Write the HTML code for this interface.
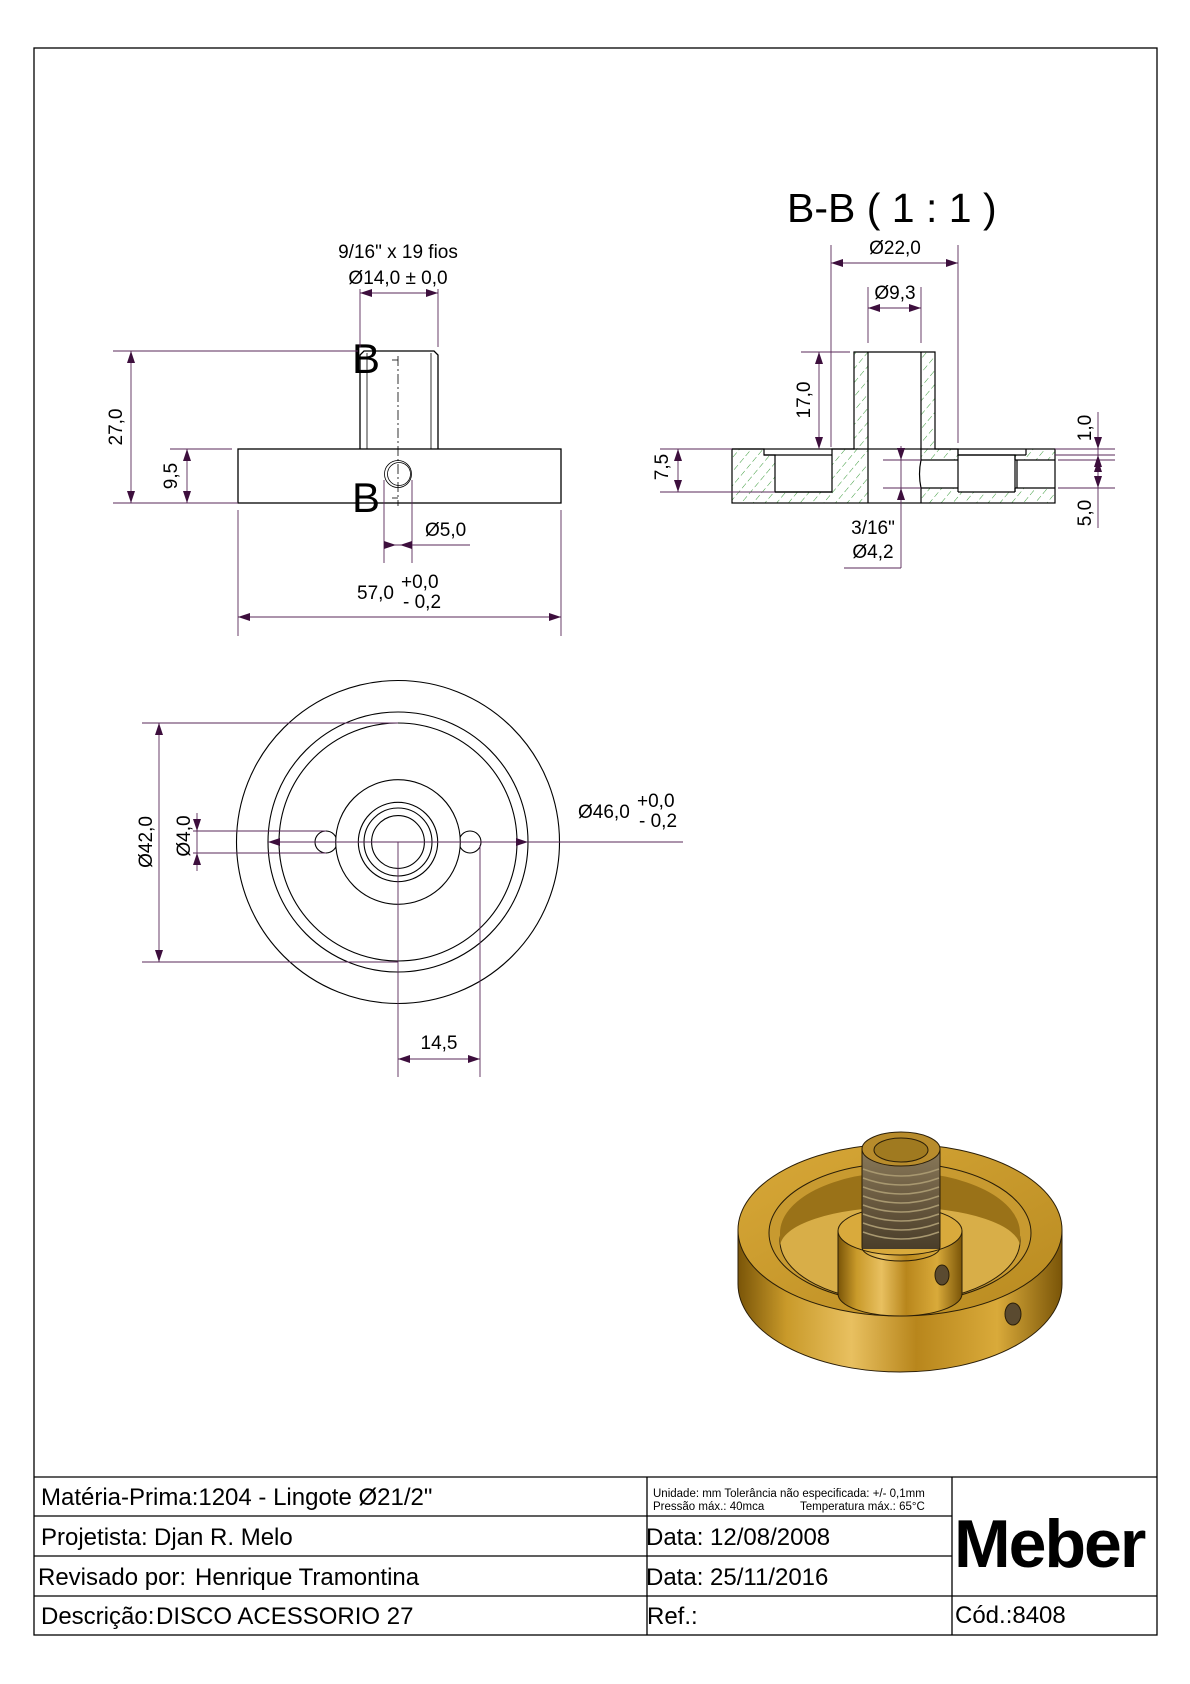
<!DOCTYPE html>
<html><head><meta charset="utf-8"><style>
html,body{margin:0;padding:0;background:#fff;}
svg{display:block;font-family:"Liberation Sans",Arial,sans-serif;}
</style></head><body>
<svg width="1190" height="1684" viewBox="0 0 1190 1684" xmlns="http://www.w3.org/2000/svg">
<defs>
<pattern id="h" width="9" height="9" patternUnits="userSpaceOnUse" patternTransform="rotate(40)">
<line x1="0" y1="0" x2="0" y2="9" stroke="#3a9a3a" stroke-width="1" stroke-dasharray="5,3"/>
</pattern>
<linearGradient id="gs" x1="0" x2="1" y1="0" y2="0">
<stop offset="0" stop-color="#7a5508"/><stop offset="0.15" stop-color="#c99a2a"/><stop offset="0.35" stop-color="#e8c060"/><stop offset="0.55" stop-color="#b8861c"/><stop offset="0.8" stop-color="#d9aa3a"/><stop offset="1" stop-color="#7a5508"/>
</linearGradient>
<linearGradient id="gt" x1="0" x2="1" y1="0" y2="1">
<stop offset="0" stop-color="#d8a838"/><stop offset="1" stop-color="#b88a20"/>
</linearGradient>
<linearGradient id="gth" x1="0" x2="0" y1="0" y2="1">
<stop offset="0" stop-color="#8a7a5a"/><stop offset="0.5" stop-color="#6a5a40"/><stop offset="1" stop-color="#4a3e2a"/>
</linearGradient>
</defs>

<!-- border -->
<rect x="34" y="48" width="1123" height="1587" fill="none" stroke="#000" stroke-width="1.3"/>

<!-- title block -->
<g stroke="#000" stroke-width="1.3" fill="none">
<line x1="34" y1="1477" x2="1157" y2="1477"/>
<line x1="34" y1="1516" x2="952" y2="1516"/>
<line x1="34" y1="1556" x2="952" y2="1556"/>
<line x1="34" y1="1596" x2="1157" y2="1596"/>
<line x1="647" y1="1477" x2="647" y2="1635"/>
<line x1="952" y1="1477" x2="952" y2="1635"/>
</g>
<g font-size="24" fill="#000">
<text x="41" y="1505">Matéria-Prima:1204 - Lingote Ø21/2"</text>
<text x="41" y="1545">Projetista: <tspan x="154">Djan R. Melo</tspan></text>
<text x="38" y="1585">Revisado por: <tspan x="195">Henrique Tramontina</tspan></text>
<text x="41" y="1624">Descrição:<tspan x="156">DISCO ACESSORIO 27</tspan></text>
<text x="646" y="1545">Data: 12/08/2008</text>
<text x="646" y="1585">Data: 25/11/2016</text>
<text x="647" y="1624">Ref.:</text>
<text x="955" y="1623">Cód.:8408</text>
</g>
<g font-size="11.5" fill="#000">
<text x="653" y="1497">Unidade: mm Tolerância não especificada: +/- 0,1mm</text>
<text x="653" y="1510">Pressão máx.: 40mca</text>
<text x="800" y="1510">Temperatura máx.: 65°C</text>
</g>
<text x="954" y="1567" font-size="68" font-weight="bold" letter-spacing="-2" fill="#000">Meber</text>

<!-- FRONT VIEW -->
<g stroke="#000" stroke-width="1.3" fill="none">
<rect x="238" y="449" width="323" height="54"/>
<path d="M360,449 V355 L364,351 H434 L438,355 V449"/>
</g>
<g stroke="#000" stroke-width="0.8" fill="none">
<line x1="367" y1="353" x2="367" y2="449"/>
<line x1="431" y1="353" x2="431" y2="449"/>
<circle cx="398" cy="474" r="13.5"/>
<circle cx="399" cy="474" r="11.5"/>
<line x1="398" y1="356" x2="398" y2="506" stroke-dasharray="10,3,2,3"/>
<line x1="392" y1="360" x2="398" y2="360"/>
<line x1="392" y1="498" x2="398" y2="498"/>
</g>
<text x="352" y="373" font-size="42" fill="#000">B</text>
<text x="352" y="512" font-size="42" fill="#000">B</text>

<g stroke="#5a2a5a" stroke-width="0.9" fill="none">
<line x1="113" y1="351" x2="358" y2="351"/>
<line x1="113" y1="503" x2="238" y2="503"/>
<line x1="131" y1="351" x2="131" y2="503"/>
<line x1="170" y1="449" x2="232" y2="449"/>
<line x1="187" y1="449" x2="187" y2="503"/>
<line x1="360" y1="289" x2="360" y2="347"/>
<line x1="438" y1="289" x2="438" y2="347"/>
<line x1="360" y1="293" x2="438" y2="293"/>
<line x1="384" y1="480" x2="384" y2="563"/>
<line x1="412" y1="480" x2="412" y2="563"/>
<line x1="384" y1="545" x2="470" y2="545"/>
<line x1="238" y1="510" x2="238" y2="636"/>
<line x1="561" y1="510" x2="561" y2="636"/>
<line x1="238" y1="617" x2="561" y2="617"/>
</g>
<g fill="#3d0f3d">
<polygon points="131,351 127,363 135,363"/><polygon points="131,503 127,491 135,491"/>
<polygon points="187,449 183,461 191,461"/><polygon points="187,503 183,491 191,491"/>
<polygon points="360,293 372,289 372,297"/><polygon points="438,293 426,289 426,297"/>
<polygon points="396,545 384,541 384,549"/><polygon points="400,545 412,541 412,549"/>
<polygon points="238,617 250,613 250,621"/><polygon points="561,617 549,613 549,621"/>
</g>
<g font-size="19" fill="#000">
<text x="398" y="258" text-anchor="middle">9/16" x 19 fios</text>
<text x="398" y="284" text-anchor="middle">Ø14,0 ± 0,0</text>
<text transform="translate(122,427) rotate(-90)" text-anchor="middle">27,0</text>
<text transform="translate(177,476) rotate(-90)" text-anchor="middle">9,5</text>
<text x="425" y="536">Ø5,0</text>
<text x="357" y="599">57,0</text>
<text x="401" y="588">+0,0</text>
<text x="403" y="608">- 0,2</text>
</g>

<!-- SECTION VIEW -->
<text x="787" y="222" font-size="41" fill="#000">B-B ( 1 : 1 )</text>
<g fill="url(#h)" stroke="none">
<path d="M732,449 H764 V455 H775 V492 H832 V449 H854 V352 H868 V503 H732 Z"/>
<path d="M921,352 H935 V449 H958 V460 H921 Z"/>
<path d="M921,488 H958 V492 H1015 V488 H1055 V503 H921 Z"/>
<path d="M1026,449 H1055 V460 H1015 V455 H1026 Z"/>
</g>
<g stroke="#000" stroke-width="1.2" fill="none">
<path d="M732,449 H764 V455 H775 V492 H832 V449 H854 V352 H935 V449 H958 V455 H1015 V492"/>
<rect x="732" y="449" width="323" height="54"/>
<line x1="764" y1="455" x2="832" y2="455"/>
<line x1="868" y1="352" x2="868" y2="503"/>
<line x1="921" y1="352" x2="921" y2="460"/>
<line x1="921" y1="488" x2="921" y2="503"/>
<line x1="958" y1="449" x2="958" y2="492"/>
<line x1="775" y1="492" x2="832" y2="492"/>
<line x1="958" y1="492" x2="1015" y2="492"/>
<line x1="958" y1="455" x2="1026" y2="455"/>
<line x1="1026" y1="449" x2="1026" y2="455"/>
<path d="M921,460 H958 M921,488 H958"/>
<path d="M921,460 Q918,474 921,488"/>
<path d="M1015,460 H1055 M1015,488 H1055"/>
<line x1="1017" y1="460" x2="1017" y2="488"/>
<line x1="1015" y1="455" x2="1015" y2="460"/>
<line x1="1015" y1="488" x2="1015" y2="492"/>
</g>
<line x1="868" y1="449" x2="921" y2="449" stroke="#000" stroke-width="1" stroke-dasharray="6,3"/>
<line x1="868" y1="352" x2="921" y2="352" stroke="#000" stroke-width="1" stroke-dasharray="6,3"/>

<g stroke="#5a2a5a" stroke-width="0.9" fill="none">
<line x1="831" y1="245" x2="831" y2="447"/>
<line x1="958" y1="245" x2="958" y2="443"/>
<line x1="831" y1="263" x2="958" y2="263"/>
<line x1="868" y1="287" x2="868" y2="343"/>
<line x1="921" y1="287" x2="921" y2="343"/>
<line x1="868" y1="308" x2="921" y2="308"/>
<line x1="801" y1="352" x2="850" y2="352"/>
<line x1="819" y1="352" x2="819" y2="449"/>
<line x1="660" y1="449" x2="732" y2="449"/>
<line x1="660" y1="492" x2="775" y2="492"/>
<line x1="678" y1="449" x2="678" y2="492"/>
<line x1="883" y1="460" x2="921" y2="460"/>
<line x1="883" y1="488" x2="921" y2="488"/>
<line x1="901" y1="446" x2="901" y2="568"/>
<line x1="844" y1="568" x2="901" y2="568"/>
<line x1="1055" y1="449" x2="1115" y2="449"/>
<line x1="1055" y1="455" x2="1115" y2="455"/>
<line x1="1058" y1="460" x2="1115" y2="460"/>
<line x1="1058" y1="488" x2="1115" y2="488"/>
<line x1="1098" y1="412" x2="1098" y2="528"/>
</g>
<g fill="#3d0f3d">
<polygon points="831,263 843,259 843,267"/><polygon points="958,263 946,259 946,267"/>
<polygon points="868,308 880,304 880,312"/><polygon points="921,308 909,304 909,312"/>
<polygon points="819,352 815,364 823,364"/><polygon points="819,449 815,437 823,437"/>
<polygon points="678,449 674,461 682,461"/><polygon points="678,492 674,480 682,480"/>
<polygon points="901,460 897,448 905,448"/><polygon points="901,488 897,500 905,500"/>
<polygon points="1098,449 1094,437 1102,437"/><polygon points="1098,455 1094,467 1102,467"/>
<polygon points="1098,460 1094,472 1102,472"/><polygon points="1098,488 1094,476 1102,476"/>
</g>
<g font-size="19" fill="#000">
<text x="895" y="254" text-anchor="middle">Ø22,0</text>
<text x="895" y="299" text-anchor="middle">Ø9,3</text>
<text transform="translate(810,400) rotate(-90)" text-anchor="middle">17,0</text>
<text transform="translate(668,467) rotate(-90)" text-anchor="middle">7,5</text>
<text x="873" y="534" text-anchor="middle">3/16"</text>
<text x="873" y="558" text-anchor="middle">Ø4,2</text>
<text transform="translate(1091,428) rotate(-90)" text-anchor="middle">1,0</text>
<text transform="translate(1091,513) rotate(-90)" text-anchor="middle">5,0</text>
</g>

<!-- CIRCLE VIEW -->
<g stroke="#000" stroke-width="1.1" fill="none">
<circle cx="398" cy="842" r="161.5"/>
<circle cx="398" cy="842" r="130"/>
<circle cx="398" cy="842" r="119"/>
<circle cx="326" cy="842" r="11"/>
<circle cx="470" cy="842" r="11"/>
<circle cx="398" cy="842" r="62.3" fill="#fff"/>
<circle cx="398" cy="842" r="39.7"/>
<circle cx="398" cy="842" r="34"/>
<circle cx="398" cy="842" r="26.4"/>
</g>
<g stroke="#5a2a5a" stroke-width="0.9" fill="none">
<line x1="142" y1="723" x2="398" y2="723"/>
<line x1="142" y1="962" x2="398" y2="962"/>
<line x1="159" y1="723" x2="159" y2="962"/>
<line x1="193" y1="831" x2="326" y2="831"/>
<line x1="193" y1="853" x2="326" y2="853"/>
<line x1="197" y1="813" x2="197" y2="871"/>
<line x1="268" y1="842" x2="683" y2="842"/>
<line x1="398" y1="842" x2="398" y2="1077"/>
<line x1="480" y1="845" x2="480" y2="1077"/>
<line x1="398" y1="1059" x2="480" y2="1059"/>
</g>
<g fill="#3d0f3d">
<polygon points="159,723 155,735 163,735"/><polygon points="159,962 155,950 163,950"/>
<polygon points="197,831 193,819 201,819"/><polygon points="197,853 193,865 201,865"/>
<polygon points="268,842 280,838 280,846"/><polygon points="528,842 516,838 516,846"/>
<polygon points="398,1059 410,1055 410,1063"/><polygon points="480,1059 468,1055 468,1063"/>
</g>
<g font-size="19" fill="#000">
<text transform="translate(152,842) rotate(-90)" text-anchor="middle">Ø42,0</text>
<text transform="translate(190,836) rotate(-90)" text-anchor="middle">Ø4,0</text>
<text x="578" y="818">Ø46,0</text>
<text x="637" y="807">+0,0</text>
<text x="639" y="827">- 0,2</text>
<text x="439" y="1049" text-anchor="middle">14,5</text>
</g>

<!-- 3D RENDER -->
<g stroke="#2a1e08" stroke-width="1">
<path d="M738,1230 V1284 A162,88 0 0 0 1062,1284 V1230 Z" fill="url(#gs)"/>
<ellipse cx="900" cy="1230" rx="162" ry="86" fill="url(#gt)"/>
<ellipse cx="900" cy="1233" rx="131" ry="70" fill="#c89a30"/>
<ellipse cx="900" cy="1241" rx="120" ry="61" fill="#d8ae48"/>
<path d="M780,1233 A120,61 0 0 1 1020,1233 V1247 A120,40 0 0 0 780,1247 Z" fill="#9a7218" stroke="none"/>
<path d="M838,1231 V1294 A62,22 0 0 0 962,1294 V1231 Z" fill="url(#gs)"/>
<ellipse cx="900" cy="1231" rx="62" ry="24" fill="#d9aa3c"/>
<rect x="862" y="1149" width="78" height="100" fill="url(#gth)" stroke="none"/>
<path d="M862,1149 V1247 A39,14 0 0 0 940,1247 V1149" fill="none"/>
<ellipse cx="901" cy="1149" rx="39" ry="17" fill="#b88c2c"/>
<ellipse cx="901" cy="1150" rx="27" ry="12" fill="#a07a20"/>
<ellipse cx="942" cy="1275" rx="7" ry="10" fill="#5a4a30"/>
<ellipse cx="1013" cy="1314" rx="8" ry="11" fill="#5a4a30"/>
</g>
<g stroke="#a89870" stroke-width="1.5" fill="none">
<path d="M863,1169 Q901,1183 939,1169"/><path d="M863,1178 Q901,1192 939,1178"/>
<path d="M863,1187 Q901,1201 939,1187"/><path d="M863,1196 Q901,1210 939,1196"/>
<path d="M863,1205 Q901,1219 939,1205"/><path d="M863,1214 Q901,1228 939,1214"/>
<path d="M863,1223 Q901,1237 939,1223"/><path d="M863,1232 Q901,1246 939,1232"/>
</g>
</svg>
</body></html>
